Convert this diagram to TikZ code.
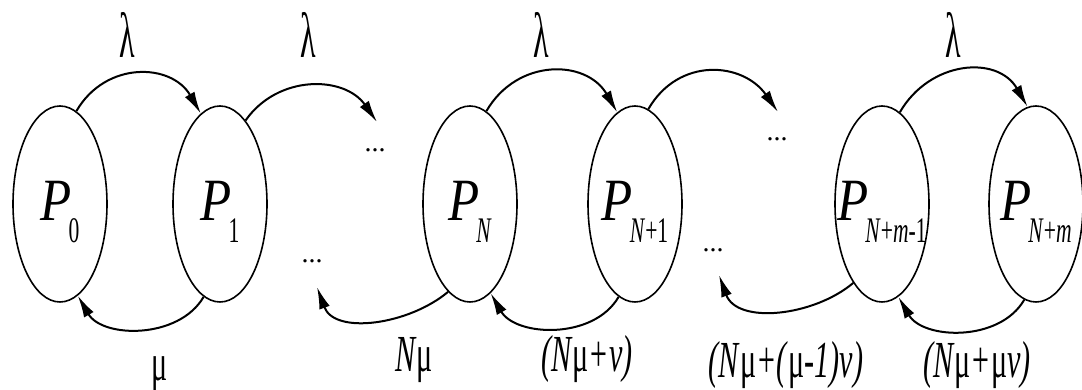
\documentclass[tikz,border=0pt]{standalone}
\usepackage{fontspec}
\setmainfont{Liberation Serif}
\usetikzlibrary{arrows.meta}
\usetikzlibrary{shapes.geometric}

\newcommand{\pst}[1]{\rule{0pt}{28pt}\scalebox{0.85}[1]{\fontsize{30}{30}\selectfont\textit{P}}\kern-1.5pt\raisebox{-11pt}{\scalebox{0.6}[1]{\fontsize{18}{18}\selectfont #1}}}
\newcommand{\ratetxt}[1]{\scalebox{0.58}[1]{\fontsize{26}{26}\selectfont #1}}
\newcommand{\lamtxt}{\scalebox{0.5}[1]{\fontsize{32}{32}\selectfont λ}}

\begin{document}
\begin{tikzpicture}[x=0.5pt, y=0.5pt,
  state/.style={draw, ellipse, line width=0.8pt, minimum width=47pt, minimum height=98pt, inner xsep=-12pt, inner ysep=0pt},
  flow/.style={-{Latex[length=11pt,width=5.5pt]}, line width=1pt},
  dots/.style={anchor=base, font=\fontsize{14}{14}\selectfont},
  lbl/.style={anchor=base}]
\useasboundingbox (0,0) rectangle (1082,390);

\node[state] (p0) at (60,186) {\pst{0}};
\node[state] (p1) at (220,186) {\pst{1}};
\node[state] (pN) at (470,186) {\pst{\textit{N}}};
\node[state] (pN1) at (635,186) {\pst{\textit{N}+1}};
\node[state] (pNm1) at (882,186) {\pst{\textit{N}+\textit{m}-1}};
\node[state] (pNm) at (1036,186) {\pst{\textit{N}+\textit{m}}};

\node[dots] (d1t) at (375,238) {...};
\node[dots] (d1b) at (312,127) {...};
\node[dots] (d2t) at (777,249) {...};
\node[dots] (d2b) at (713,138) {...};
\coordinate (e1t) at (377,268);
\coordinate (e1b) at (317,103);
\coordinate (e2t) at (778,278);
\coordinate (e2b) at (719,115);

\draw[flow] (p0.80) to[out=60,in=120,looseness=1.2] (p1.102);
\draw[flow] (p1.73) to[out=55,in=125,looseness=1.1] (e1t);
\draw[flow] (pN.80) to[out=60,in=120,looseness=1.2] (pN1.101);
\draw[flow] (pN1.82) to[out=60,in=125,looseness=1.2] (e2t);
\draw[flow] (pNm1.79) to[out=60,in=120,looseness=1.2] (pNm.95);

\draw[flow] (p1.260) to[out=-120,in=-60] (p0.281);
\draw[flow] (pN.256) to[out=-140,in=-70] (e1b);
\draw[flow] (pN1.260) to[out=-120,in=-60] (pN.283);
\draw[flow] (pNm1.250) to[out=-140,in=-70] (e2b);
\draw[flow] (pNm.263) to[out=-120,in=-60] (pNm1.280);

\node[lbl] (l1) at (127,332) {\lamtxt};
\node[lbl] (l2) at (308,332) {\lamtxt};
\node[lbl] (l3) at (541,332) {\lamtxt};
\node[lbl] (l4) at (953,332) {\lamtxt};

\node[lbl] (r1) at (160,9) {\ratetxt{μ}};
\node[lbl] (r2) at (414,18) {\ratetxt{\textit{N}μ}};
\node[lbl] (r3) at (587,18) {\ratetxt{\textit{(N}μ\textit{+ν)}}};
\node[lbl] (r4) at (786,12) {\ratetxt{\textit{(N}μ\textit{+(}μ\textit{-1)ν)}}};
\node[lbl] (r5) at (977,12) {\ratetxt{\textit{(N}μ\textit{+}μ\textit{ν)}}};
\end{tikzpicture}
\end{document}
